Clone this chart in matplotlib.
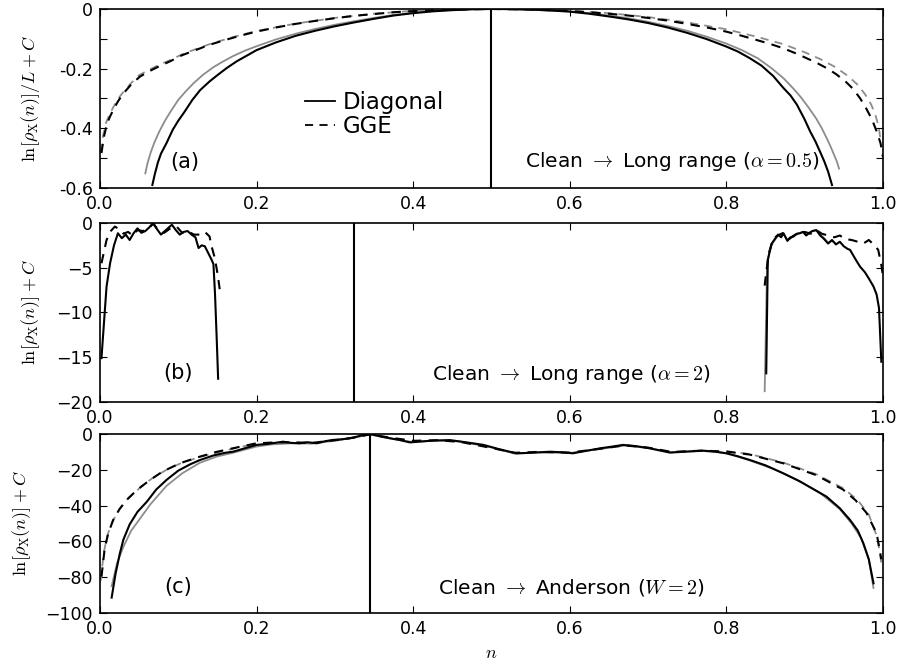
import matplotlib
matplotlib.use('Agg')
import matplotlib.pyplot as plt
from matplotlib.lines import Line2D

plt.rcParams['font.family'] = 'DejaVu Sans'
plt.rcParams['mathtext.fontset'] = 'cm'

# ---- panel (a): clean -> long range, alpha = 0.5 ----
a_diag_x = [0.067, 0.070, 0.074, 0.078, 0.085, 0.093, 0.1, 0.108, 0.118, 0.128, 0.14, 0.15, 0.162, 0.175,
            0.19, 0.2, 0.225, 0.25, 0.275, 0.3, 0.325, 0.35, 0.375, 0.4, 0.425, 0.45, 0.475, 0.5, 0.525,
            0.55, 0.575, 0.6, 0.625, 0.65, 0.675, 0.7, 0.725, 0.75, 0.775, 0.8, 0.815, 0.83, 0.845, 0.86,
            0.873, 0.882, 0.89, 0.9, 0.907, 0.914, 0.92, 0.925, 0.93, 0.935]
a_diag_y = [-0.59, -0.555, -0.515, -0.485, -0.45, -0.405, -0.375, -0.345, -0.305, -0.272, -0.243, -0.222,
            -0.198, -0.175, -0.153, -0.138, -0.112, -0.09, -0.073, -0.058, -0.045, -0.033, -0.022, -0.014,
            -0.008, -0.004, -0.001, 0.0, -0.0005, -0.002, -0.005, -0.009, -0.016, -0.025, -0.035, -0.047,
            -0.062, -0.08, -0.101, -0.126, -0.143, -0.165, -0.19, -0.225, -0.265, -0.29, -0.32, -0.37,
            -0.41, -0.445, -0.48, -0.51, -0.545, -0.59]
a_diag2_x = [0.058, 0.061, 0.065, 0.07, 0.076, 0.083, 0.09, 0.1, 0.11, 0.12, 0.132, 0.145, 0.158, 0.17,
             0.185, 0.2, 0.225, 0.25, 0.275, 0.3, 0.325, 0.35, 0.375, 0.4, 0.425, 0.45, 0.475, 0.5, 0.525,
             0.55, 0.575, 0.6, 0.625, 0.65, 0.675, 0.7, 0.725, 0.75, 0.775, 0.8, 0.82, 0.84, 0.857, 0.873,
             0.885, 0.895, 0.905, 0.915, 0.922, 0.928, 0.933, 0.937, 0.941, 0.944]
a_diag2_y = [-0.551, -0.515, -0.48, -0.445, -0.41, -0.375, -0.345, -0.305, -0.275, -0.248, -0.22, -0.195,
             -0.175, -0.158, -0.14, -0.125, -0.102, -0.083, -0.067, -0.053, -0.041, -0.03, -0.02, -0.013,
             -0.007, -0.003, -0.001, 0.0, -0.0005, -0.002, -0.004, -0.008, -0.014, -0.022, -0.031, -0.043,
             -0.057, -0.073, -0.093, -0.116, -0.138, -0.165, -0.197, -0.232, -0.265, -0.295, -0.33, -0.368,
             -0.4, -0.432, -0.46, -0.485, -0.51, -0.535]
a_gge_x = [0.002, 0.005, 0.009, 0.013, 0.017, 0.023, 0.03, 0.04, 0.051, 0.062, 0.075, 0.09, 0.105, 0.12,
           0.14, 0.16, 0.18, 0.2, 0.225, 0.25, 0.275, 0.3, 0.325, 0.35, 0.375, 0.4, 0.45, 0.5, 0.55, 0.6,
           0.625, 0.65, 0.675, 0.7, 0.725, 0.75, 0.775, 0.8, 0.82, 0.84, 0.857, 0.873, 0.888, 0.9, 0.915,
           0.928, 0.94, 0.953, 0.962, 0.971, 0.979, 0.986, 0.992, 0.997, 1.0]
a_gge_y = [-0.483, -0.43, -0.385, -0.36, -0.339, -0.31, -0.283, -0.253, -0.227, -0.21, -0.193, -0.175,
           -0.155, -0.14, -0.12, -0.104, -0.089, -0.076, -0.062, -0.05, -0.04, -0.031, -0.023, -0.017,
           -0.011, -0.007, -0.002, 0.0, -0.002, -0.007, -0.011, -0.016, -0.022, -0.03, -0.039, -0.05,
           -0.062, -0.076, -0.09, -0.105, -0.118, -0.132, -0.148, -0.162, -0.18, -0.198, -0.218, -0.245,
           -0.268, -0.3, -0.335, -0.37, -0.41, -0.45, -0.496]
a_gge2_x = [0.001, 0.004, 0.008, 0.012, 0.016, 0.022, 0.03, 0.04, 0.05, 0.062, 0.075, 0.09, 0.105, 0.12,
            0.14, 0.16, 0.18, 0.2, 0.25, 0.3, 0.35, 0.4, 0.45, 0.5, 0.55, 0.6, 0.65, 0.7, 0.75, 0.8, 0.84,
            0.873, 0.9, 0.92, 0.94, 0.955, 0.967, 0.977, 0.985, 0.991, 0.995, 0.997]
a_gge2_y = [-0.48, -0.425, -0.38, -0.355, -0.335, -0.305, -0.278, -0.248, -0.222, -0.205, -0.188, -0.171,
            -0.152, -0.137, -0.118, -0.102, -0.087, -0.074, -0.049, -0.03, -0.016, -0.006, -0.002, 0.0,
            -0.002, -0.006, -0.014, -0.027, -0.045, -0.068, -0.094, -0.118, -0.145, -0.168, -0.196,
            -0.224, -0.252, -0.285, -0.32, -0.36, -0.4, -0.44]

# ---- panel (b): clean -> long range, alpha = 2 ----
b_diag_l_x = [0.002, 0.0085, 0.013, 0.018, 0.023, 0.028, 0.033, 0.038, 0.043, 0.048, 0.053, 0.058, 0.063,
              0.068, 0.073, 0.078, 0.083, 0.088, 0.092, 0.097, 0.102, 0.107, 0.112, 0.117, 0.122, 0.126,
              0.13, 0.134, 0.138, 0.1426, 0.145, 0.147, 0.149, 0.151]
b_diag_l_y = [-15.1, -7.1, -4.5, -2.5, -1.15, -1.7, -1.3, -1.9, -1.15, -0.6, -1.1, -0.9, -0.5, 0.0, -0.7,
              -1.3, -0.9, -0.5, -0.2, -0.8, -1.3, -1.0, -0.9, -1.3, -1.6, -2.8, -2.5, -2.6, -3.3, -4.1,
              -4.6, -7.9, -12.5, -17.4]
b_gge_l_x = [0.002, 0.0085, 0.014, 0.019, 0.025, 0.03, 0.036, 0.042, 0.048, 0.055, 0.062, 0.068, 0.075,
             0.082, 0.09, 0.098, 0.105, 0.112, 0.12, 0.128, 0.134, 0.14, 0.1426, 0.147, 0.151, 0.153]
b_gge_l_y = [-4.5, -1.9, -0.9, -0.4, -0.7, -1.2, -1.0, -1.4, -0.8, -0.9, -0.6, -0.1, -0.8, -1.1, -0.6,
             -0.4, -1.1, -0.9, -1.3, -1.3, -1.0, -1.5, -2.6, -4.0, -6.1, -7.4]
b_diag_r_x = [0.851, 0.853, 0.856, 0.858, 0.862, 0.866, 0.87, 0.873, 0.878, 0.882, 0.886, 0.89, 0.894,
              0.898, 0.902, 0.906, 0.91, 0.915, 0.92, 0.925, 0.93, 0.935, 0.94, 0.945, 0.95, 0.955, 0.958,
              0.962, 0.966, 0.971, 0.977, 0.982, 0.988, 0.992, 0.995, 0.998]
b_diag_r_y = [-16.8, -4.1, -3.0, -2.3, -1.8, -1.3, -1.6, -1.15, -2.0, -1.6, -1.5, -1.2, -1.15, -1.0,
              -1.4, -1.1, -0.9, -0.8, -1.4, -1.8, -2.3, -1.9, -2.4, -2.1, -2.6, -2.9, -3.0, -3.6, -4.2,
              -4.9, -5.5, -6.2, -7.1, -8.0, -9.5, -15.5]
b_diag2_r_x = [0.849, 0.852, 0.855, 0.858, 0.862, 0.866, 0.87, 0.873, 0.878, 0.882, 0.886, 0.89, 0.894,
               0.898, 0.902, 0.906, 0.91, 0.915, 0.92, 0.925, 0.93, 0.935, 0.94]
b_diag2_r_y = [-18.8, -5.0, -3.2, -2.4, -1.9, -1.4, -1.5, -1.2, -1.9, -1.7, -1.4, -1.3, -1.1, -1.0, -1.3,
               -1.2, -0.9, -0.8, -1.3, -1.7, -2.2, -2.0, -2.3]
b_gge_r_x = [0.849, 0.851, 0.854, 0.858, 0.862, 0.868, 0.873, 0.88, 0.888, 0.894, 0.9, 0.908, 0.915,
             0.922, 0.93, 0.938, 0.945, 0.952, 0.96, 0.968, 0.975, 0.982, 0.988, 0.994, 0.998, 1.0]
b_gge_r_y = [-7.0, -5.5, -3.5, -2.3, -1.6, -1.3, -1.1, -1.8, -1.3, -1.1, -1.0, -1.2, -0.8, -1.2, -1.4,
             -1.6, -1.4, -1.8, -1.9, -2.1, -2.3, -1.9, -2.4, -3.0, -4.7, -5.9]

# ---- panel (c): clean -> Anderson, W = 2 ----
c_diag_x = [0.015, 0.02, 0.0255, 0.03, 0.038, 0.048, 0.06, 0.072, 0.085, 0.1, 0.115, 0.128, 0.145, 0.16,
            0.17, 0.185, 0.2, 0.215, 0.234, 0.245, 0.255, 0.265, 0.277, 0.288, 0.298, 0.308, 0.319, 0.328,
            0.336, 0.345, 0.36, 0.383, 0.396, 0.41, 0.425, 0.447, 0.47, 0.49, 0.51, 0.532, 0.55, 0.575,
            0.59, 0.604, 0.62, 0.639, 0.655, 0.668, 0.685, 0.702, 0.715, 0.728, 0.75, 0.77, 0.785, 0.8,
            0.815, 0.83, 0.85, 0.873, 0.894, 0.91, 0.928, 0.945, 0.958, 0.968, 0.975, 0.982, 0.988]
c_diag_y = [-91.4, -78, -66.7, -59, -50.5, -43.5, -37.8, -31, -25.7, -20.5, -17, -14.5, -12, -10.5, -9.9,
            -8, -6.1, -5.5, -4.3, -5.0, -5.2, -4.6, -5.2, -4.0, -3.3, -3.0, -2.4, -1.5, -0.6, 0.0, -1.5,
            -3.4, -4.7, -4.2, -3.7, -3.4, -4.8, -6.1, -8.5, -10.8, -10.5, -9.9, -10.2, -10.8, -9.5, -8.0,
            -7.0, -6.1, -6.8, -8.0, -9.2, -10.4, -9.8, -9.3, -9.8, -10.8, -12.5, -14.5, -17.5, -22, -26.5,
            -30.5, -35, -41.5, -48, -54, -61, -70, -83.4]
c_diag2_x = [0.015, 0.022, 0.03, 0.04, 0.05, 0.065, 0.085, 0.105, 0.128, 0.15, 0.17, 0.2, 0.22, 0.245,
             0.27, 0.3, 0.325, 0.345, 0.37, 0.4, 0.43, 0.46, 0.5, 0.53, 0.56, 0.6, 0.64, 0.67, 0.7, 0.73,
             0.77, 0.8, 0.83, 0.86, 0.89, 0.92, 0.945, 0.96, 0.972, 0.982, 0.988]
c_diag2_y = [-85, -72, -63, -54, -48, -39, -29, -22, -16, -12.5, -10.5, -7, -5.8, -5.2, -5.4, -3.8, -2.0,
             -0.3, -2.5, -4.5, -3.6, -4.2, -7.5, -11, -10.3, -10.6, -8.3, -6.5, -7.8, -10.2, -9.5, -10.6,
             -14.8, -19.5, -25.5, -33, -42, -50, -58, -70, -86]
c_gge_x = [0.002, 0.0064, 0.011, 0.017, 0.025, 0.034, 0.048, 0.064, 0.08, 0.102, 0.125, 0.149, 0.175,
           0.2, 0.22, 0.245, 0.27, 0.3, 0.325, 0.345, 0.37, 0.4, 0.43, 0.46, 0.5, 0.53, 0.56, 0.6, 0.64,
           0.67, 0.7, 0.73, 0.77, 0.8, 0.83, 0.873, 0.915, 0.949, 0.965, 0.979, 0.992, 0.998]
c_gge_y = [-79.7, -63, -55, -48, -42, -36.9, -31, -25.7, -21, -16.4, -13, -10.0, -7.5, -5.2, -4.8, -4.6,
           -5.0, -3.5, -2.0, -0.2, -2.0, -3.8, -3.5, -4.4, -7.8, -10.5, -10.0, -10.4, -8.2, -6.3, -7.6,
           -10.0, -9.3, -9.8, -11.5, -16.4, -23, -31, -37, -44, -55.5, -70]
c_gge2_l_x = [0.001, 0.005, 0.01, 0.016, 0.025, 0.036, 0.05, 0.066, 0.085, 0.105, 0.13, 0.155, 0.18, 0.2]
c_gge2_l_y = [-82, -66, -56, -49, -42, -36, -30.5, -25, -20, -16, -12.5, -9.8, -7.2, -5.4]
c_gge2_r_x = [0.8, 0.83, 0.873, 0.915, 0.95, 0.968, 0.982, 0.993, 0.998]
c_gge2_r_y = [-9.6, -11.2, -16, -22.5, -30.5, -37, -45, -58, -72]

vlines = [0.5, 0.325, 0.345]

xticks = [0.0, 0.2, 0.4, 0.6, 0.8, 1.0]
xtick_labels = ['0.0', '0.2', '0.4', '0.6', '0.8', '1.0']
a_yticks = [-0.6, -0.5, -0.4, -0.3, -0.2, -0.1, 0.0]
a_ytick_labels = ['-0.6', '', '-0.4', '', '-0.2', '', '0']
b_yticks = [-20, -15, -10, -5, 0]
b_ytick_labels = ['\u221220', '\u221215', '\u221210', '\u22125', '0']
c_yticks = [-100, -80, -60, -40, -20, 0]
c_ytick_labels = ['\u2212100', '\u221280', '\u221260', '\u221240', '\u221220', '0']

fig = plt.figure(figsize=(9, 6.64), dpi=100)
ax_a = fig.add_axes([0.111, 0.7169, 0.870, 0.2696])
ax_b = fig.add_axes([0.111, 0.3946, 0.870, 0.2696])
ax_c = fig.add_axes([0.111, 0.0768, 0.870, 0.2696])

black = dict(color='black', lw=1.5)
gray = dict(color='0.55', lw=1.3)
dash = (0, (4.5, 3.5))

ax_a.plot(a_diag2_x, a_diag2_y, **gray)
ax_a.plot(a_gge2_x, a_gge2_y, ls=dash, **gray)
ax_a.plot(a_diag_x, a_diag_y, **black)
ax_a.plot(a_gge_x, a_gge_y, ls=dash, **black)

ax_b.plot(b_diag2_r_x, b_diag2_r_y, **gray)
ax_b.plot(b_diag_l_x, b_diag_l_y, **black)
ax_b.plot(b_gge_l_x, b_gge_l_y, ls=dash, **black)
ax_b.plot(b_diag_r_x, b_diag_r_y, **black)
ax_b.plot(b_gge_r_x, b_gge_r_y, ls=dash, **black)

ax_c.plot(c_diag2_x, c_diag2_y, **gray)
ax_c.plot(c_gge2_l_x, c_gge2_l_y, ls=dash, **gray)
ax_c.plot(c_gge2_r_x, c_gge2_r_y, ls=dash, **gray)
ax_c.plot(c_diag_x, c_diag_y, **black)
ax_c.plot(c_gge_x, c_gge_y, ls=dash, **black)

for ax, xv in zip([ax_a, ax_b, ax_c], vlines):
    ax.axvline(xv, color='black', lw=1.5)
    ax.set_xlim(0, 1)
    ax.set_xticks(xticks, xtick_labels)
    ax.tick_params(direction='in', top=True, right=True, length=5, labelsize=12.5, pad=5)
    for s in ax.spines.values():
        s.set_linewidth(1.2)

ax_a.set_ylim(-0.6, 0)
ax_a.set_yticks(a_yticks, a_ytick_labels)
ax_b.set_ylim(-20, 0)
ax_b.set_yticks(b_yticks, b_ytick_labels)
ax_c.set_ylim(-100, 0)
ax_c.set_yticks(c_yticks, c_ytick_labels)

ax_a.set_ylabel(r'$\ln[\rho_{\rm X}(n)]/L+C$', fontsize=13)
ax_b.set_ylabel(r'$\ln[\rho_{\rm X}(n)]+C$', fontsize=13)
ax_c.set_ylabel(r'$\ln[\rho_{\rm X}(n)]+C$', fontsize=13)
ax_a.yaxis.set_label_coords(-0.074, 0.5)
ax_b.yaxis.set_label_coords(-0.074, 0.5)
ax_c.yaxis.set_label_coords(-0.086, 0.5)
ax_c.set_xlabel(r'$n$', fontsize=13)

ax_a.text(0.109, 0.145, '(a)', transform=ax_a.transAxes, ha='center', va='center', fontsize=15)
ax_b.text(0.0996, 0.162, '(b)', transform=ax_b.transAxes, ha='center', va='center', fontsize=15)
ax_c.text(0.1, 0.145, '(c)', transform=ax_c.transAxes, ha='center', va='center', fontsize=15)
ax_a.text(0.543, 0.15, r'Clean $\rightarrow$ Long range ($\alpha=0.5$)', transform=ax_a.transAxes,
          ha='left', va='center', fontsize=14.5)
ax_b.text(0.424, 0.151, r'Clean $\rightarrow$ Long range ($\alpha=2$)', transform=ax_b.transAxes,
          ha='left', va='center', fontsize=14.5)
ax_c.text(0.432, 0.145, r'Clean $\rightarrow$ Anderson ($W=2$)', transform=ax_c.transAxes,
          ha='left', va='center', fontsize=14.5)

handles = [Line2D([], [], color='black', lw=1.3),
           Line2D([], [], color='black', lw=1.3, ls=dash)]
ax_a.legend(handles, ['Diagonal', 'GGE'], loc='center left', bbox_to_anchor=(0.262, 0.411),
            frameon=False, fontsize=16.5, handlelength=1.3, handletextpad=0.35, borderpad=0,
            borderaxespad=0, labelspacing=0.05)

fig.savefig('out.png', dpi=100)
